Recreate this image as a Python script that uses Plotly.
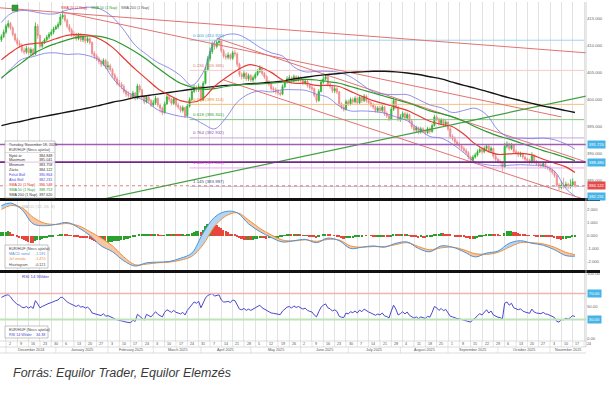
import numpy as np
import pandas as pd
import plotly.graph_objects as go

# ---------------- daily EUR/HUF candles ----------------
dates = pd.bdate_range("2024-11-28", "2025-11-18")

open_ = [
    411.0, 411.6,
    412.4, 413.5, 414.0, 413.2, 412.0,
    411.0, 410.3, 410.0, 409.0, 408.8,
    409.4, 408.6, 409.2, 408.4, 413.5,
    411.8, 409.8, 410.5, 411.0, 411.5,
    412.0, 412.4, 413.0, 413.4, 413.8,
    415.2, 415.5, 414.6, 413.5, 412.8,
    412.0, 411.8, 411.2, 411.9, 411.0,
    411.5, 410.8, 411.2, 410.5, 408.5,
    408.0, 407.5, 407.0, 406.5, 407.2,
    406.0, 406.2, 405.5, 404.5, 403.8,
    403.0, 402.8, 402.4, 401.5, 401.0,
    400.8, 400.5, 401.2, 400.2, 402.5,
    401.8, 400.5, 399.6, 400.4, 399.8,
    399.0, 399.4, 400.2, 399.0, 398.4,
    397.6, 399.2, 400.5, 400.0, 399.3,
    400.1, 399.0, 398.6, 398.0, 398.5,
    397.0, 398.8, 400.0, 401.5, 402.2,
    401.8, 402.4, 399.9, 403.0, 405.5,
    407.5, 408.8, 410.2, 409.8, 410.5,
    410.8, 409.0, 408.0, 407.8, 408.2,
    407.6, 408.6, 408.4, 406.5, 404.6,
    404.2, 404.8, 403.8, 404.4, 403.6,
    404.0, 404.6, 405.2, 405.8, 404.8,
    404.2, 403.2, 402.8, 402.0, 401.8,
    401.5, 401.2, 401.0, 402.4, 403.2,
    403.8, 404.0, 403.4, 404.2, 403.6,
    404.0, 403.6, 403.0, 403.4, 402.6,
    402.2, 402.0, 400.8, 399.8, 401.5,
    403.2, 403.8, 404.2, 402.8, 402.4,
    401.6, 402.0, 401.4, 399.2, 398.6,
    398.2, 399.6, 399.2, 400.0, 399.6,
    400.2, 399.4, 400.4, 399.8, 400.6,
    399.8, 399.4, 399.0, 398.6, 398.0,
    398.4, 398.0, 398.6, 397.4, 397.0,
    396.4, 398.2, 399.8, 398.6, 396.4,
    396.8, 397.4, 396.6, 397.2, 396.0,
    395.0, 394.4, 394.8, 394.0, 394.6,
    394.2, 393.9, 394.6, 394.1, 395.2,
    396.8, 396.4, 395.6, 396.2, 395.4,
    395.8, 394.6, 393.2, 392.8, 392.2,
    391.8, 391.4, 391.0, 390.6, 390.2,
    389.4, 388.8, 389.4, 389.8, 390.4,
    390.8, 390.4, 391.0, 391.4, 390.6,
    391.0, 389.6, 389.0, 388.6, 388.4,
    387.6, 391.4, 391.8, 391.0, 391.6,
    390.4, 390.2, 389.8, 390.0, 389.4,
    389.0, 388.8, 388.4, 389.6, 388.6,
    388.2, 388.0, 387.8, 388.2, 387.6,
    387.4, 387.0, 386.6, 386.0, 384.2,
    383.8, 384.2, 384.0, 384.4, 383.9,
    384.3, 384.848,
]

high = [
    412.0, 412.9,
    413.9, 414.6, 414.3, 413.5, 412.3,
    411.4, 410.9, 410.3, 409.6, 409.9,
    409.7, 409.6, 409.5, 414.2, 413.9,
    412.0, 410.8, 411.3, 411.9, 412.4,
    412.9, 413.4, 413.7, 414.3, 415.8,
    416.4, 415.9, 414.9, 413.9, 413.2,
    412.6, 412.3, 412.3, 412.2, 411.9,
    411.8, 411.6, 411.5, 410.7, 408.9,
    408.4, 407.9, 407.4, 407.6, 407.5,
    407.0, 406.6, 405.8, 404.9, 404.2,
    403.6, 403.2, 402.8, 401.9, 401.5,
    401.1, 401.6, 401.4, 402.9, 402.8,
    402.0, 400.8, 400.8, 400.7, 400.1,
    399.9, 400.7, 400.4, 399.3, 398.7,
    399.6, 400.9, 400.8, 400.3, 400.5,
    400.3, 399.4, 398.9, 398.9, 398.7,
    399.2, 400.4, 401.9, 402.7, 402.6,
    402.9, 402.6, 403.4, 406.0, 408.0,
    409.6, 410.7, 411.0, 411.0, 411.4,
    411.0, 409.3, 408.5, 408.7, 408.5,
    409.0, 409.1, 408.7, 406.8, 405.0,
    405.2, 405.1, 404.8, 404.7, 404.4,
    405.0, 405.6, 406.3, 406.1, 405.1,
    404.5, 403.6, 403.1, 402.4, 402.2,
    401.9, 401.6, 402.8, 403.6, 404.3,
    404.5, 404.3, 404.6, 404.5, 404.4,
    404.3, 403.9, 403.8, 403.7, 402.9,
    402.6, 402.2, 401.0, 401.9, 403.7,
    404.3, 404.7, 404.4, 403.2, 402.7,
    402.5, 402.3, 401.6, 399.5, 399.0,
    400.0, 400.0, 400.4, 400.4, 400.6,
    400.5, 400.8, 400.7, 401.0, 400.9,
    400.2, 399.8, 399.4, 398.9, 398.8,
    398.8, 399.0, 398.8, 397.8, 397.3,
    398.6, 400.2, 400.0, 398.8, 397.3,
    397.8, 397.7, 397.6, 397.4, 396.3,
    395.3, 395.2, 395.0, 395.0, 394.9,
    394.5, 395.0, 394.9, 395.6, 397.2,
    397.2, 396.7, 396.6, 396.5, 396.2,
    396.0, 394.9, 393.6, 393.2, 392.6,
    392.2, 391.8, 391.4, 391.0, 390.5,
    389.7, 389.8, 390.2, 390.8, 391.2,
    391.1, 391.4, 391.8, 391.7, 391.4,
    391.2, 389.9, 389.3, 389.0, 388.6,
    392.0, 392.3, 392.1, 392.0, 391.8,
    390.8, 390.5, 390.4, 390.2, 389.7,
    389.3, 389.1, 390.3, 389.9, 388.9,
    388.6, 388.4, 388.6, 388.5, 387.9,
    387.8, 387.3, 386.9, 386.2, 384.6,
    385.0, 385.6, 384.9, 384.7, 385.3,
    385.5, 385.041,
]

low = [
    410.6, 411.3,
    412.1, 413.1, 412.8, 411.6, 410.6,
    409.9, 409.5, 408.6, 408.3, 408.4,
    408.2, 408.2, 408.0, 408.2, 411.2,
    409.4, 409.5, 410.2, 410.7, 411.1,
    411.7, 412.0, 412.8, 413.0, 413.6,
    414.8, 414.2, 413.1, 412.4, 411.5,
    411.3, 410.8, 410.9, 410.6, 410.6,
    410.3, 410.4, 410.1, 408.1, 407.5,
    407.1, 406.5, 406.0, 406.2, 405.6,
    405.4, 405.1, 404.1, 403.4, 402.6,
    402.3, 401.9, 401.1, 400.5, 400.3,
    400.0, 400.2, 399.8, 400.0, 401.3,
    400.1, 399.1, 399.3, 399.3, 398.6,
    398.6, 399.0, 398.6, 397.6, 397.1,
    397.4, 399.0, 399.5, 398.9, 399.0,
    398.6, 398.2, 397.6, 397.6, 396.6,
    396.8, 398.5, 399.7, 401.2, 401.4,
    401.4, 399.5, 399.7, 402.8, 405.2,
    407.0, 408.4, 409.2, 409.4, 410.0,
    408.6, 407.6, 407.3, 407.4, 407.2,
    407.3, 407.9, 406.0, 404.2, 403.7,
    403.8, 403.4, 403.4, 403.2, 403.2,
    403.7, 404.3, 404.9, 404.4, 403.8,
    402.8, 402.4, 401.6, 401.3, 401.0,
    400.8, 400.6, 400.8, 402.1, 402.9,
    403.5, 403.0, 403.1, 403.2, 403.3,
    403.2, 402.6, 402.7, 402.2, 401.8,
    401.6, 400.4, 399.4, 399.6, 401.3,
    402.9, 403.5, 402.4, 402.0, 401.2,
    401.2, 401.0, 398.8, 398.2, 397.8,
    398.0, 398.8, 398.9, 399.2, 399.3,
    399.0, 399.1, 399.4, 399.5, 399.4,
    399.0, 398.6, 398.2, 397.6, 397.6,
    397.6, 397.7, 397.0, 396.6, 396.0,
    396.2, 397.9, 398.2, 396.0, 395.9,
    396.5, 396.2, 396.3, 395.6, 394.6,
    394.0, 394.0, 393.6, 393.7, 393.8,
    393.5, 393.6, 393.7, 393.9, 395.0,
    396.0, 395.2, 395.3, 395.0, 395.0,
    394.2, 392.8, 392.4, 391.8, 391.4,
    391.0, 390.6, 390.2, 389.8, 389.0,
    388.4, 388.5, 389.1, 389.5, 390.1,
    390.0, 390.1, 390.7, 390.2, 390.2,
    389.2, 388.6, 388.2, 388.0, 386.8,
    387.4, 391.0, 390.6, 390.7, 390.0,
    389.8, 389.4, 389.4, 389.0, 388.6,
    388.4, 388.0, 388.2, 388.2, 387.8,
    387.6, 387.4, 387.5, 387.2, 387.0,
    386.6, 386.2, 385.6, 383.9, 383.3,
    383.5, 383.6, 383.7, 383.5, 383.6,
    384.0, 383.758,
]

close = [
    411.6, 412.4,
    413.5, 414.0, 413.2, 412.0, 411.0,
    410.3, 410.0, 409.0, 408.8, 409.4,
    408.6, 409.2, 408.4, 413.5, 411.8,
    409.8, 410.5, 411.0, 411.5, 412.0,
    412.4, 413.0, 413.4, 413.8, 415.2,
    415.5, 414.6, 413.5, 412.8, 412.0,
    411.8, 411.2, 411.9, 411.0, 411.5,
    410.8, 411.2, 410.5, 408.5, 408.0,
    407.5, 407.0, 406.5, 407.2, 406.0,
    406.2, 405.5, 404.5, 403.8, 403.0,
    402.8, 402.4, 401.5, 401.0, 400.8,
    400.5, 401.2, 400.2, 402.5, 401.8,
    400.5, 399.6, 400.4, 399.8, 399.0,
    399.4, 400.2, 399.0, 398.4, 397.6,
    399.2, 400.5, 400.0, 399.3, 400.1,
    399.0, 398.6, 398.0, 398.5, 397.0,
    398.8, 400.0, 401.5, 402.2, 401.8,
    402.4, 399.9, 403.0, 405.5, 407.5,
    408.8, 410.2, 409.8, 410.5, 410.8,
    409.0, 408.0, 407.8, 408.2, 407.6,
    408.6, 408.4, 406.5, 404.6, 404.2,
    404.8, 403.8, 404.4, 403.6, 404.0,
    404.6, 405.2, 405.8, 404.8, 404.2,
    403.2, 402.8, 402.0, 401.8, 401.5,
    401.2, 401.0, 402.4, 403.2, 403.8,
    404.0, 403.4, 404.2, 403.6, 404.0,
    403.6, 403.0, 403.4, 402.6, 402.2,
    402.0, 400.8, 399.8, 401.5, 403.2,
    403.8, 404.2, 402.8, 402.4, 401.6,
    402.0, 401.4, 399.2, 398.6, 398.2,
    399.6, 399.2, 400.0, 399.6, 400.2,
    399.4, 400.4, 399.8, 400.6, 399.8,
    399.4, 399.0, 398.6, 398.0, 398.4,
    398.0, 398.6, 397.4, 397.0, 396.4,
    398.2, 399.8, 398.6, 396.4, 396.8,
    397.4, 396.6, 397.2, 396.0, 395.0,
    394.4, 394.8, 394.0, 394.6, 394.2,
    393.9, 394.6, 394.1, 395.2, 396.8,
    396.4, 395.6, 396.2, 395.4, 395.8,
    394.6, 393.2, 392.8, 392.2, 391.8,
    391.4, 391.0, 390.6, 390.2, 389.4,
    388.8, 389.4, 389.8, 390.4, 390.8,
    390.4, 391.0, 391.4, 390.6, 391.0,
    389.6, 389.0, 388.6, 388.4, 387.6,
    391.4, 391.8, 391.0, 391.6, 390.4,
    390.2, 389.8, 390.0, 389.4, 389.0,
    388.8, 388.4, 389.6, 388.6, 388.2,
    388.0, 387.8, 388.2, 387.6, 387.4,
    387.0, 386.6, 386.0, 384.2, 383.8,
    384.2, 384.0, 384.4, 383.9, 384.3,
    384.85, 384.122,
]

macd_hist = [
    0.25, 0.28,
    0.3, 0.32, 0.25, 0.12, 0.0,
    -0.1, -0.18, -0.28, -0.38, -0.42,
    -0.5, -0.55, -0.58, -0.4, -0.35,
    -0.32, -0.28, -0.22, -0.17, -0.12,
    -0.08, -0.04, 0.0, 0.03, 0.1,
    0.14, 0.12, 0.08, 0.03, -0.02,
    -0.06, -0.1, -0.12, -0.16, -0.18,
    -0.2, -0.22, -0.28, -0.36, -0.42,
    -0.5, -0.55, -0.6, -0.57, -0.58,
    -0.55, -0.52, -0.48, -0.45, -0.42,
    -0.4, -0.36, -0.32, -0.28, -0.25,
    -0.2, -0.14, -0.1, 0.0, 0.04,
    0.05, 0.06, 0.1, 0.1, 0.08,
    0.08, 0.1, 0.06, 0.03, -0.02,
    0.03, 0.08, 0.1, 0.08, 0.12,
    0.1, 0.08, 0.06, 0.07, 0.02,
    0.06, 0.12, 0.22, 0.3, 0.32,
    0.38, 0.28, 0.45, 0.7, 0.9,
    1.0, 0.98, 0.85, 0.78, 0.68,
    0.55, 0.42, 0.32, 0.25, 0.15,
    0.12, 0.06, -0.05, -0.18, -0.28,
    -0.32, -0.36, -0.34, -0.35, -0.32,
    -0.28, -0.24, -0.18, -0.2, -0.22,
    -0.24, -0.23, -0.22, -0.2, -0.18,
    -0.17, -0.15, -0.08, -0.02, 0.04,
    0.06, 0.05, 0.07, 0.06, 0.07,
    0.05, 0.02, 0.02, -0.02, -0.05,
    -0.07, -0.12, -0.18, -0.12, 0.0,
    0.1, 0.15, 0.1, 0.06, 0.0,
    -0.02, -0.05, -0.12, -0.18, -0.24,
    -0.22, -0.22, -0.18, -0.16, -0.12,
    -0.1, -0.05, -0.04, 0.0, -0.01,
    0.0, -0.02, -0.04, -0.07, -0.06,
    -0.06, -0.04, -0.07, -0.1, -0.14,
    -0.06, 0.05, 0.1, 0.05, 0.04,
    0.06, 0.04, 0.06, 0.02, -0.04,
    -0.1, -0.12, -0.16, -0.15, -0.16,
    -0.17, -0.15, -0.15, -0.08, 0.04,
    0.12, 0.15, 0.18, 0.16, 0.14,
    0.1, 0.04, 0.0, -0.04, -0.08,
    -0.1, -0.13, -0.15, -0.18, -0.22,
    -0.27, -0.3, -0.26, -0.2, -0.12,
    -0.05, 0.03, 0.08, 0.08, 0.1,
    0.08, 0.06, 0.04, 0.03, 0.0,
    0.2, 0.32, 0.36, 0.38, 0.3,
    0.24, 0.18, 0.14, 0.1, 0.05,
    0.02, -0.02, 0.0, -0.02, -0.05,
    -0.06, -0.08, -0.08, -0.1, -0.11,
    -0.12, -0.14, -0.17, -0.25, -0.3,
    -0.32, -0.3, -0.26, -0.22, -0.18,
    -0.15, -0.121,
]

rsi14 = [
    64, 66,
    67.5, 68, 65, 60, 56,
    53, 52, 49, 48, 50,
    47.5, 50, 47, 59, 54,
    48, 50, 52, 53, 55,
    56, 58, 59, 60, 64,
    64, 60, 57, 55, 53,
    52, 50, 52, 49, 50,
    47.5, 49, 46, 40, 39,
    38, 37, 36, 39, 35,
    36, 34, 32, 31, 29.5,
    29, 28.5, 27, 26, 25.5,
    25, 29, 27, 38, 35,
    31, 29, 38, 36, 34,
    38, 42, 38, 36, 34,
    41, 45, 43, 41, 44,
    41, 40, 38.5, 41, 37,
    44, 49, 54, 57, 55,
    58, 48, 57, 63, 67,
    69, 70, 66, 67, 68,
    60, 57, 57, 58, 56,
    60, 59, 52, 46, 45,
    47, 44, 46, 44, 46,
    48, 50, 52, 48, 46,
    43, 42, 40, 39.5, 39,
    38, 37.5, 43, 46, 49,
    50, 47.5, 51, 48.5, 50,
    48, 46, 47.5, 44, 42.5,
    41.5, 37, 34, 42, 49,
    52, 54, 48, 46.5, 43,
    45, 42.5, 35, 33.5, 33,
    40, 38.5, 42, 40.5, 43,
    40, 44.5, 42, 46, 43,
    41.5, 40, 38.5, 36.5, 38.5,
    37, 40, 35.5, 34.5, 32.5,
    43, 52, 46, 37, 39,
    42, 38.5, 41.5, 36.5, 33.5,
    32, 34, 31.5, 34, 32.5,
    31.5, 35, 33.5, 41, 50,
    48, 44, 47, 43.5, 45.5,
    40, 35, 34, 32.5, 31.5,
    31, 30, 29.5, 29, 27,
    26, 30, 32, 36, 39,
    37, 42, 45, 40, 43,
    37, 35, 33.5, 33, 31,
    55, 57, 52, 55, 48,
    47, 45, 46.5, 43, 41.5,
    41, 39.5, 46, 41.5, 40,
    39.5, 39, 41, 38.5, 38,
    36.5, 35, 33, 27, 26,
    30, 29.5, 32, 30.5, 33,
    36, 34.38,
]

# ---------------- indicator lines, read at weekly points ----------------
ind_dates = [
    "2024-11-28", "2024-12-04", "2024-12-11", "2024-12-18", "2024-12-25",
    "2025-01-01", "2025-01-08", "2025-01-15", "2025-01-22", "2025-01-29",
    "2025-02-05", "2025-02-12", "2025-02-19", "2025-02-26",
    "2025-03-05", "2025-03-12", "2025-03-19", "2025-03-26",
    "2025-04-02", "2025-04-09", "2025-04-16", "2025-04-23", "2025-04-30",
    "2025-05-07", "2025-05-14", "2025-05-21", "2025-05-28",
    "2025-06-04", "2025-06-11", "2025-06-18", "2025-06-25",
    "2025-07-02", "2025-07-09", "2025-07-16", "2025-07-23", "2025-07-30",
    "2025-08-06", "2025-08-13", "2025-08-20", "2025-08-27",
    "2025-09-03", "2025-09-10", "2025-09-17", "2025-09-24",
    "2025-10-01", "2025-10-08", "2025-10-15", "2025-10-22", "2025-10-29",
    "2025-11-05", "2025-11-12", "2025-11-18",
]
sma20 = [407.3, 408.6, 409.9, 410.3, 410.5, 411.2, 411.8, 412.0, 411.8, 411.0,
         409.6, 407.6, 405.6, 403.8, 402.0, 400.8, 399.8, 399.5, 400.2, 402.4,
         404.0, 405.4, 406.4, 406.0, 405.0, 403.6, 403.0, 403.0, 402.6, 402.6,
         402.4, 401.5, 400.6, 399.8, 399.2, 398.6, 398.0, 397.0, 396.0, 395.4,
         395.0, 393.6, 391.8, 390.6, 389.9, 390.0, 390.1, 389.8, 389.0, 388.3,
         387.6, 386.548]
sma50 = [404.0, 405.3, 406.8, 408.4, 409.5, 410.3, 411.0, 411.5, 411.7, 411.6,
         411.0, 410.0, 408.8, 407.4, 405.8, 404.3, 403.0, 402.3, 401.9, 402.0,
         402.4, 402.7, 402.8, 402.9, 403.0, 403.2, 403.5, 403.7, 403.6, 403.3,
         403.0, 402.4, 401.8, 401.2, 400.6, 400.0, 399.4, 398.7, 397.9, 397.4,
         396.8, 396.0, 395.0, 394.1, 393.3, 392.7, 392.0, 391.3, 390.6, 390.0,
         389.3, 388.753]
sma200 = [395.2, 395.6, 396.0, 396.5, 396.9, 397.3, 397.7, 398.1, 398.5, 399.0,
          399.5, 399.9, 400.4, 400.7, 401.0, 401.3, 401.6, 401.9, 402.2, 402.4,
          402.6, 402.7, 402.9, 403.0, 403.2, 403.4, 403.8, 404.1, 404.4, 404.6,
          404.8, 405.0, 405.1, 405.2, 405.2, 405.1, 404.9, 404.6, 404.2, 403.8,
          403.2, 402.6, 402.1, 401.5, 400.9, 400.3, 399.8, 399.3, 398.8, 398.4,
          397.95, 397.62]
boll_up = [414.2, 415.8, 416.4, 416.2, 415.8, 415.8, 416.5, 416.8, 417.0, 416.6,
           415.2, 412.8, 410.0, 408.3, 406.8, 405.8, 404.4, 402.6, 405.0, 410.6,
           411.9, 412.0, 411.0, 409.6, 408.6, 408.0, 406.0, 405.1, 405.2, 405.2,
           405.0, 404.2, 402.8, 401.4, 401.0, 400.9, 400.9, 400.0, 399.0, 398.5,
           397.6, 398.0, 398.4, 397.2, 394.4, 393.0, 392.9, 392.8, 392.9, 392.6,
           391.8, 390.864]
boll_low = [403.8, 405.6, 407.4, 407.9, 408.5, 408.6, 408.3, 408.4, 408.0, 407.0,
            404.0, 401.8, 400.6, 399.6, 398.1, 397.4, 396.9, 396.6, 395.5, 394.6,
            396.6, 399.5, 401.0, 401.6, 401.4, 401.8, 401.8, 401.7, 401.0, 400.4,
            398.8, 397.9, 397.9, 397.8, 397.5, 396.8, 396.1, 394.6, 393.2, 392.9,
            391.8, 390.2, 388.5, 388.0, 387.8, 387.9, 388.0, 387.9, 387.8, 386.8,
            383.6, 382.231]
macd_line = [2.3, 2.5, 2.0, 0.9, 0.75, 0.85, 1.0, 0.6, 0.0, -0.8,
             -1.25, -1.95, -2.35, -2.1, -2.05, -2.0, -1.75, -1.35, 0.2, 1.4,
             1.85, 1.75, 0.9, 0.3, -0.15, -0.5, -0.4, -0.3, -0.55, -0.2,
             -0.4, -1.0, -0.9, -0.8, -0.9, -0.6, -0.5, -1.0, -1.25, -0.8,
             -0.9, -1.25, -1.65, -1.35, -1.2, -0.6, -0.4, -0.6, -0.75, -1.1,
             -1.55, -1.591]
macd_signal = [2.0, 2.3, 2.15, 1.4, 0.95, 0.85, 0.92, 0.75, 0.3, -0.2,
               -0.8, -1.65, -2.25, -2.2, -2.1, -2.05, -1.9, -1.6, -0.7, 0.7,
               1.5, 1.75, 1.2, 0.55, 0.05, -0.35, -0.42, -0.33, -0.45, -0.3,
               -0.35, -0.8, -0.9, -0.85, -0.85, -0.7, -0.55, -0.85, -1.1, -0.95,
               -0.9, -1.1, -1.4, -1.45, -1.3, -0.9, -0.55, -0.55, -0.65, -0.9,
               -1.3, -1.47]

# ---------------- drawing tools on the price panel ----------------
fib_start, fib_end = "2025-03-25", "2025-11-24"
fib_ratio = ["0.000", "0.236", "0.500", "0.618", "0.764", "1.000", "1.145", "1.236"]
fib_price = [410.920, 405.365, 399.114, 396.301, 392.932, 387.405, 383.987, 381.679]
fib_line_color = ["#9fd6ee", "#f4cccc", "#f6bd7c", "#80c880", "#c9a3dd", "#eea6ee", "#c7c7dd", "#d2d2d2"]
fib_text_color = ["#3d9fd1", "#e07a7a", "#ee8a22", "#3a9a3a", "#9050b0", "#d040d0", "#405080", "#888888"]

level_price = [391.720, 388.480]
level_color = ["#a35bb8", "#76288a"]
last_close = 384.122
boll_low_last = 382.231

red_trend = [
    [("2024-11-27", 416.9), ("2025-11-25", 408.6)],
    [("2025-01-06", 416.1), ("2025-11-10", 396.8)],
    [("2025-04-10", 411.3), ("2025-11-25", 388.5)],
    [("2025-04-15", 403.6), ("2025-11-25", 381.5)],
]
green_trend = [("2025-01-28", 381.5), ("2025-11-25", 400.65)]

info_labels = ["Nyitó ár", "Maximum", "Minimum", "Zárás", "Felső Boll", "Alsó Boll",
               "SMA 20 (1 Nap)", "SMA 50 (1 Nap)", "SMA 200 (1 Nap)"]
info_values = ["384.848", "385.041", "383.758", "384.122", "390.864", "382.231",
               "386.548", "388.753", "397.620"]
info_colors = ["#333333", "#333333", "#333333", "#333333", "#4848d8", "#4848d8",
               "#e03030", "#2e9e2e", "#333333"]

price_ticks = [385, 390, 395, 400, 405, 410, 415]
macd_ticks = [-2, -1, 0, 1, 2]
rsi_ticks = [0, 50, 100]

month_labels = ["December 2024", "January 2025", "February 2025", "March 2025", "April 2025",
                "May 2025", "June 2025", "July 2025", "August 2025", "September 2025",
                "October 2025", "November 2025"]
month_starts = ["2024-12-02", "2025-01-01", "2025-02-03", "2025-03-03", "2025-04-01",
                "2025-05-01", "2025-06-02", "2025-07-01", "2025-08-01", "2025-09-01",
                "2025-10-01", "2025-11-03"]

# ---------------- sanity checks ----------------
for name, arr in dict(open=open_, high=high, low=low, close=close, hist=macd_hist, rsi=rsi14).items():
    if len(arr) != len(dates):
        raise ValueError(f"{name}: {len(arr)} values for {len(dates)} dates")
for name, arr in dict(sma20=sma20, sma50=sma50, sma200=sma200, bu=boll_up, bl=boll_low,
                      macd=macd_line, sig=macd_signal).items():
    if len(arr) != len(ind_dates):
        raise ValueError(f"{name}: {len(arr)} values for {len(ind_dates)} dates")

# ---------------- geometry ----------------
W, H = 615, 398
ML, MR, MT, MB = 0, 29, 2, 57
PW, PH = W - ML - MR, H - MT - MB
X0, X1 = "2024-11-27 09:00", "2025-11-24 21:00"
NB = 258.5  # business days across the x range


def px(x):
    return x / PW


def py(y):
    return (PH + MT - y) / PH


def bpos(d):
    return (np.busday_count("2024-11-27", d) - 0.375) / NB


mondays = pd.date_range("2024-12-02", "2025-11-24", freq="W-MON")
FONT = "Liberation Sans, Arial, sans-serif"
SMALL = 3.7

fig = go.Figure()

# --- price panel ---
for p, lc in zip(fib_price, fib_line_color):
    fig.add_trace(go.Scatter(x=[fib_start, fib_end], y=[p, p], mode="lines",
                             line=dict(color=lc, width=1), xaxis="x", yaxis="y", hoverinfo="skip"))
for seg in red_trend:
    fig.add_trace(go.Scatter(x=[seg[0][0], seg[1][0]], y=[seg[0][1], seg[1][1]], mode="lines",
                             line=dict(color="#e27272", width=1), xaxis="x", yaxis="y", hoverinfo="skip"))
fig.add_trace(go.Scatter(x=[green_trend[0][0], green_trend[1][0]], y=[green_trend[0][1], green_trend[1][1]],
                         mode="lines", line=dict(color="#3f9f3f", width=1.2), xaxis="x", yaxis="y"))
fig.add_trace(go.Scatter(x=ind_dates, y=boll_up, mode="lines", line=dict(color="#7474e4", width=0.8, shape="spline"),
                         xaxis="x", yaxis="y"))
fig.add_trace(go.Scatter(x=ind_dates, y=boll_low, mode="lines", line=dict(color="#7474e4", width=0.8, shape="spline"),
                         xaxis="x", yaxis="y"))
fig.add_trace(go.Scatter(x=ind_dates, y=sma200, mode="lines", line=dict(color="#151515", width=1.4, shape="spline"),
                         xaxis="x", yaxis="y"))
fig.add_trace(go.Candlestick(x=dates, open=open_, high=high, low=low, close=close,
                             increasing=dict(line=dict(color="#2fae2f", width=0.8), fillcolor="#3cc43c"),
                             decreasing=dict(line=dict(color="#ee8585", width=0.8), fillcolor="#f39a9a"),
                             whiskerwidth=0, xaxis="x", yaxis="y"))
fig.add_trace(go.Scatter(x=ind_dates, y=sma50, mode="lines", line=dict(color="#2e9a2e", width=1.2, shape="spline"),
                         xaxis="x", yaxis="y"))
fig.add_trace(go.Scatter(x=ind_dates, y=sma20, mode="lines", line=dict(color="#e43a32", width=1.2, shape="spline"),
                         xaxis="x", yaxis="y"))

# --- MACD panel ---
mac = np.array(macd_line)
sig = np.array(macd_signal)
fig.add_trace(go.Scatter(x=ind_dates, y=sig, mode="lines", line=dict(width=0, shape="spline"),
                         xaxis="x2", yaxis="y2", hoverinfo="skip"))
fig.add_trace(go.Scatter(x=ind_dates, y=np.maximum(mac, sig), mode="lines", line=dict(width=0, shape="spline"),
                         fill="tonexty", fillcolor="#b3d5f2", xaxis="x2", yaxis="y2", hoverinfo="skip"))
fig.add_trace(go.Scatter(x=ind_dates, y=sig, mode="lines", line=dict(width=0, shape="spline"),
                         xaxis="x2", yaxis="y2", hoverinfo="skip"))
fig.add_trace(go.Scatter(x=ind_dates, y=np.minimum(mac, sig), mode="lines", line=dict(width=0, shape="spline"),
                         fill="tonexty", fillcolor="#f7c6a2", xaxis="x2", yaxis="y2", hoverinfo="skip"))
hist_colors = ["#2ca02c" if (i == 0 or h >= macd_hist[i - 1]) else "#e8453c" for i, h in enumerate(macd_hist)]
fig.add_trace(go.Bar(x=dates, y=macd_hist, marker=dict(color=hist_colors, line=dict(width=0)),
                     width=0.7 * 86400000, xaxis="x2", yaxis="y2"))
fig.add_trace(go.Scatter(x=ind_dates, y=sig, mode="lines", line=dict(color="#f0923c", width=1, shape="spline"),
                         xaxis="x2", yaxis="y2"))
fig.add_trace(go.Scatter(x=ind_dates, y=mac, mode="lines", line=dict(color="#4f93d8", width=1, shape="spline"),
                         xaxis="x2", yaxis="y2"))

# --- RSI panel ---
fig.add_trace(go.Scatter(x=dates, y=rsi14, mode="lines", line=dict(color="#4747cf", width=1),
                         xaxis="x3", yaxis="y3"))

# ---------------- axes ----------------
xcommon = dict(type="date", range=[X0, X1], rangebreaks=[dict(bounds=["sat", "mon"])],
               showticklabels=False, tickvals=list(mondays), showgrid=True, gridcolor="#e2e2e2",
               gridwidth=0.6, zeroline=False, showline=False, fixedrange=True)
ycommon = dict(side="right", showgrid=False, zeroline=False, ticks="", showline=False,
               tickfont=dict(size=4.2, color="#666666", family=FONT), fixedrange=True)

fig.update_layout(
    width=W, height=H, margin=dict(l=ML, r=MR, t=MT, b=MB),
    plot_bgcolor="white", paper_bgcolor="white", showlegend=False, bargap=0,
    font=dict(family=FONT, size=5, color="#333333"),
    xaxis=dict(**xcommon, anchor="y", domain=[0, 1], rangeslider=dict(visible=False)),
    xaxis2=dict(**xcommon, anchor="y2", domain=[0, 1], matches="x"),
    xaxis3=dict(**xcommon, anchor="y3", domain=[0, 1], matches="x"),
    yaxis=dict(**ycommon, domain=[py(198), 1.0], range=[381.87, 417.96],
               tickvals=price_ticks, ticktext=[f"{v:.3f}" for v in price_ticks]),
    yaxis2=dict(**ycommon, domain=[py(270), py(201)], range=[-2.654, 2.654],
                tickvals=macd_ticks, ticktext=[f"{v:.3f}" for v in macd_ticks]),
    yaxis3=dict(**ycommon, domain=[0, py(273)], range=[-3.08, 101.54],
                tickvals=rsi_ticks, ticktext=[f"{v:.2f}" for v in rsi_ticks]),
)

shapes = []
ann = []

# horizontal levels
for p, c in zip(level_price, level_color):
    shapes.append(dict(type="line", xref="paper", yref="y", x0=0, x1=1, y0=p, y1=p,
                       line=dict(color=c, width=1.6)))
shapes.append(dict(type="line", xref="paper", yref="y", x0=0, x1=1, y0=last_close, y1=last_close,
                   line=dict(color="#d86060", width=0.8, dash="dot")))
# RSI guide lines
shapes.append(dict(type="line", xref="paper", yref="y3", x0=0, x1=1, y0=70, y1=70,
                   line=dict(color="#f3b3b3", width=1.5)))
shapes.append(dict(type="line", xref="paper", yref="y3", x0=0, x1=1, y0=30, y1=30,
                   line=dict(color="#bfe3b8", width=2)))
# panel separators
for ysep in (199.5, 271.5):
    shapes.append(dict(type="line", xref="paper", yref="paper", x0=0, x1=px(600), y0=py(ysep), y1=py(ysep),
                       line=dict(color="#111111", width=3)))
# right axis line
shapes.append(dict(type="line", xref="paper", yref="paper", x0=1, x1=1, y0=py(347), y1=1,
                   line=dict(color="#c4c4c4", width=0.8)))
# date axis frame
for yl in (341, 347, 353):
    shapes.append(dict(type="line", xref="paper", yref="paper", x0=0, x1=1, y0=py(yl), y1=py(yl),
                       line=dict(color="#c8c8c8", width=0.6)))
for m in mondays:
    xm = bpos(m.strftime("%Y-%m-%d"))
    shapes.append(dict(type="line", xref="paper", yref="paper", x0=xm, x1=xm, y0=py(341), y1=py(347),
                       line=dict(color="#c8c8c8", width=0.5)))
    ann.append(dict(xref="paper", yref="paper", x=xm + 0.6 / PW, y=py(344), text=str(m.day),
                    showarrow=False, xanchor="left", yanchor="middle",
                    font=dict(size=SMALL, color="#555555", family=FONT)))
mpos = [bpos(d) for d in month_starts] + [1.0]
for i, lab in enumerate(month_labels):
    shapes.append(dict(type="line", xref="paper", yref="paper", x0=mpos[i], x1=mpos[i], y0=py(347), y1=py(353),
                       line=dict(color="#c8c8c8", width=0.5)))
    ann.append(dict(xref="paper", yref="paper", x=(mpos[i] + mpos[i + 1]) / 2, y=py(350.2), text=lab,
                    showarrow=False, xanchor="center", yanchor="middle",
                    font=dict(size=SMALL, color="#555555", family=FONT)))

# fib labels
for r, p, tc in zip(fib_ratio, fib_price, fib_text_color):
    ann.append(dict(xref="x", yref="y", x=fib_start, y=p, text=f"{r} ({p:.3f})", showarrow=False,
                    xanchor="left", yanchor="bottom", xshift=1, yshift=0.5,
                    font=dict(size=4.4, color=tc, family=FONT)))

# top legend
shapes.append(dict(type="rect", xref="paper", yref="paper", x0=px(12), x1=px(18), y0=py(11), y1=py(5),
                   fillcolor="#3a9a3a", line=dict(color="#2a7a2a", width=0.5)))
for txt, xl, col in (("SMA 20 (1 Nap)", 59, "#e03030"), ("SMA 50 (1 Nap)", 89, "#2e9e2e"),
                     ("SMA 200 (1 Nap)", 119, "#555555")):
    ann.append(dict(xref="paper", yref="paper", x=px(xl), y=py(8), text=txt, showarrow=False,
                    xanchor="left", yanchor="middle", font=dict(size=SMALL, color=col, family=FONT)))

# info box (price panel)
shapes.append(dict(type="rect", xref="paper", yref="paper", x0=px(5), x1=px(55), y0=py(198), y1=py(141),
                   fillcolor="rgba(255,255,255,0.85)", line=dict(color="#9a9a9a", width=0.6)))
ann.append(dict(xref="paper", yref="paper", x=px(6.5), y=py(144.5), text="Tuesday, November 18, 2025",
                showarrow=False, xanchor="left", yanchor="middle", font=dict(size=SMALL, color="#444444")))
ann.append(dict(xref="paper", yref="paper", x=px(6.5), y=py(149.5), text="EUR/HUF (Nincs ajánlat)",
                showarrow=False, xanchor="left", yanchor="middle", font=dict(size=SMALL, color="#444444")))
shapes.append(dict(type="line", xref="paper", yref="paper", x0=px(5), x1=px(55), y0=py(152.5), y1=py(152.5),
                   line=dict(color="#bbbbbb", width=0.5)))
for i, (lab, val, col) in enumerate(zip(info_labels, info_values, info_colors)):
    yl = 155.5 + i * 4.9
    ann.append(dict(xref="paper", yref="paper", x=px(6.5), y=py(yl), text=lab, showarrow=False,
                    xanchor="left", yanchor="middle", font=dict(size=SMALL, color=col)))
    ann.append(dict(xref="paper", yref="paper", x=px(54), y=py(yl), text=val, showarrow=False,
                    xanchor="right", yanchor="middle", font=dict(size=SMALL, color=col)))

# MACD panel texts
ann.append(dict(xref="paper", yref="paper", x=px(20), y=py(206), text="MACD (12, 26, 9)", showarrow=False,
                xanchor="left", yanchor="middle", font=dict(size=4.2, color="#c0c0c0")))
shapes.append(dict(type="rect", xref="paper", yref="paper", x0=px(5), x1=px(48), y0=py(268), y1=py(245),
                   fillcolor="rgba(255,255,255,0.9)", line=dict(color="#9a9a9a", width=0.6)))
for i, (lab, val, col) in enumerate((("EUR/HUF (Nincs ajánlat)", "", "#444444"),
                                     ("MACD vonal", "-1.591", "#4f93d8"),
                                     ("Jel vonala", "-1.470", "#ee8a30"),
                                     ("Hisztogram", "-0.121", "#444444"))):
    yl = 249 + i * 5.2
    ann.append(dict(xref="paper", yref="paper", x=px(6.5), y=py(yl), text=lab, showarrow=False,
                    xanchor="left", yanchor="middle", font=dict(size=SMALL, color=col)))
    if val:
        ann.append(dict(xref="paper", yref="paper", x=px(47), y=py(yl), text=val, showarrow=False,
                        xanchor="right", yanchor="middle", font=dict(size=SMALL, color=col)))

# RSI panel texts
ann.append(dict(xref="paper", yref="paper", x=px(20), y=py(276), text="RSI 14 Wilder", showarrow=False,
                xanchor="left", yanchor="middle", font=dict(size=4.4, color="#4747cf")))
shapes.append(dict(type="rect", xref="paper", yref="paper", x0=px(5), x1=px(48), y0=py(338), y1=py(326),
                   fillcolor="rgba(255,255,255,0.9)", line=dict(color="#9a9a9a", width=0.6)))
ann.append(dict(xref="paper", yref="paper", x=px(6.5), y=py(329.5), text="EUR/HUF (Nincs ajánlat)", showarrow=False,
                xanchor="left", yanchor="middle", font=dict(size=SMALL, color="#444444")))
ann.append(dict(xref="paper", yref="paper", x=px(6.5), y=py(334.5), text="RSI 14 Wilder", showarrow=False,
                xanchor="left", yanchor="middle", font=dict(size=SMALL, color="#4747cf")))
ann.append(dict(xref="paper", yref="paper", x=px(47), y=py(334.5), text="34.38", showarrow=False,
                xanchor="right", yanchor="middle", font=dict(size=SMALL, color="#4747cf")))

# right-axis value boxes
for val, yref, bg, txt in ((level_price[0], "y", "#46b4e6", f"{level_price[0]:.3f}"),
                           (level_price[1], "y", "#46b4e6", f"{level_price[1]:.3f}"),
                           (last_close, "y", "#e44c4c", f"{last_close:.3f}"),
                           (boll_low_last, "y", "#46b4e6", f"{boll_low_last:.3f}"),
                           (70, "y3", "#46b4e6", "70.00"),
                           (30, "y3", "#46b4e6", "30.00")):
    ann.append(dict(xref="paper", yref=yref, x=1.0, y=val, text=txt, showarrow=False, xanchor="left",
                    yanchor="middle", xshift=1, bgcolor=bg, borderpad=0.8,
                    font=dict(size=4.2, color="white", family=FONT)))

# caption
ann.append(dict(xref="paper", yref="paper", x=px(11), y=py(373), text="<i>Forrás: Equilor Trader, Equilor Elemzés</i>",
                showarrow=False, xanchor="left", yanchor="middle",
                font=dict(size=12.5, color="#3a3a3a", family=FONT)))

fig.update_layout(shapes=shapes, annotations=ann)
fig.write_html("out.html", config={"displayModeBar": False},
               post_script="document.body.style.margin='0';document.body.style.padding='0';"
                           "document.documentElement.style.overflow='hidden';")
